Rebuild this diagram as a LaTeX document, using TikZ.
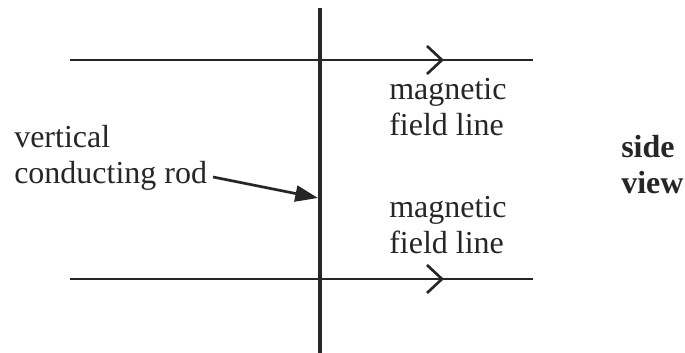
\documentclass[tikz,border=0pt]{standalone}
\usepackage{fontspec}
\setmainfont{Liberation Serif}
\usetikzlibrary{arrows.meta}
\begin{document}
\begin{tikzpicture}[x=0.75pt,y=-0.75pt,
  fline/.style={line width=2pt,black!85},
  lbl/.style={font=\fontsize{24}{26.5}\selectfont,align=left,inner sep=0pt,text=black!85},
  chev/.style={line width=2pt,black!85}]
\useasboundingbox (0,0) rectangle (685,353);
\coordinate (rt) at (320,8);
\coordinate (rb) at (320,353);
\draw[line width=3.5pt,black!85] (rt) -- (rb);
\coordinate (t1) at (70,60); \coordinate (t2) at (533,60);
\coordinate (b1) at (70,279); \coordinate (b2) at (533,279);
\draw[fline] (t1) -- (t2);
\draw[fline] (b1) -- (b2);
\draw[chev] (427,46) -- (442,60) -- (427,74);
\draw[chev] (427,265) -- (442,279) -- (427,293);
\node[lbl,anchor=base west] (m1) at (389,135) {magnetic\\field line};
\node[lbl,anchor=base west] (m2) at (389,253) {magnetic\\field line};
\node[lbl,anchor=base west] (rod) at (14,183) {vertical\\conducting rod};
\node[lbl,anchor=base west,font=\fontsize{24}{26.5}\selectfont\bfseries] (sv) at (621,193) {side\\view};
\coordinate (rodpt) at (318,198);
\draw[line width=2pt,black!85,-{Triangle[length=17pt,width=12pt]}] (213,177) -- (rodpt);
\end{tikzpicture}
\end{document}
